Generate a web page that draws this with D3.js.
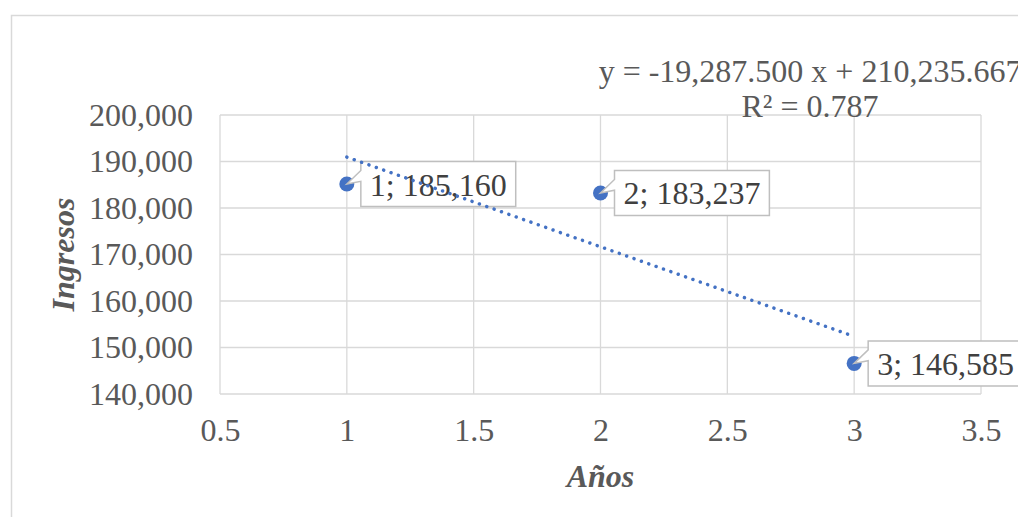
<!DOCTYPE html>
<html><head><meta charset="utf-8">
<script src="https://cdn.jsdelivr.net/npm/d3@7"></script>
<style>html,body{margin:0;padding:0;background:#fff;overflow:hidden}</style>
</head><body>
<script>
const years = [1, 2, 3];
const ingresos = [185160, 183237, 146585];
const pointLabels = ["1; 185,160", "2; 183,237", "3; 146,585"];
const xTicks = [0.5, 1, 1.5, 2, 2.5, 3, 3.5];
const yTicks = [140000, 150000, 160000, 170000, 180000, 190000, 200000];
const trendSlope = -19287.5, trendIntercept = 210235.667;
const equationText = "y = -19,287.500 x + 210,235.667";
const r2Text = "R² = 0.787";
const xTitle = "Años", yTitle = "Ingresos";

const W = 1018, H = 517;
const FONT = "'Liberation Serif','Times New Roman',serif";
const FS = 32;
const svg = d3.select("body").append("svg").attr("width", W).attr("height", H);
svg.append("rect").attr("width", W).attr("height", H).attr("fill", "#fff");
// chart border
svg.append("rect").attr("x", 11.5).attr("y", 15.5).attr("width", 1040).attr("height", 540)
  .attr("fill", "none").attr("stroke", "#d9d9d9").attr("stroke-width", 1.5);

const L = 220, R = 981, T = 115, B = 394;
const x = d3.scaleLinear().domain([0.5, 3.5]).range([L, R]);
const y = d3.scaleLinear().domain([140000, 200000]).range([B, T]);

// gridlines
const g = svg.append("g");
g.selectAll(".vg").data(xTicks).join("line")
  .attr("x1", d => x(d)).attr("x2", d => x(d)).attr("y1", T).attr("y2", B)
  .attr("stroke", "#d9d9d9").attr("stroke-width", 1.3);
g.selectAll(".hg").data(yTicks).join("line")
  .attr("x1", L).attr("x2", R).attr("y1", d => y(d)).attr("y2", d => y(d))
  .attr("stroke", "#d9d9d9").attr("stroke-width", 1.3);

// axes (labels only)
const fmt = d3.format(",");
const yAxis = svg.append("g").attr("transform", `translate(${L},0)`)
  .call(d3.axisLeft(y).tickValues(yTicks).tickFormat(fmt).tickSize(0).tickPadding(27));
const xAxis = svg.append("g").attr("transform", `translate(0,${B})`)
  .call(d3.axisBottom(x).tickValues(xTicks).tickFormat(d => String(d)).tickSize(0).tickPadding(24));
[yAxis, xAxis].forEach(a => {
  a.select(".domain").remove();
  a.selectAll("text").attr("font-family", FONT).attr("font-size", FS).attr("fill", "#595959");
});

// axis titles
svg.append("text").attr("x", (L + R) / 2).attr("y", 487).attr("text-anchor", "middle")
  .attr("font-family", FONT).attr("font-size", FS).attr("font-weight", "bold").attr("font-style", "italic")
  .attr("fill", "#595959").text(xTitle);
svg.append("text").attr("transform", `translate(74,${(T + B) / 2}) rotate(-90)`).attr("text-anchor", "middle")
  .attr("font-family", FONT).attr("font-size", FS).attr("font-weight", "bold").attr("font-style", "italic")
  .attr("fill", "#595959").text(yTitle);

// markers
const pts = years.map((d, i) => ({ x: d, y: ingresos[i], label: pointLabels[i] }));
svg.selectAll(".pt").data(pts).join("circle")
  .attr("cx", d => x(d.x)).attr("cy", d => y(d.y)).attr("r", 7.5).attr("fill", "#4472C4");

// data label callouts
const lab = svg.selectAll(".lab").data(pts).join("g");
lab.each(function (d) {
  const gg = d3.select(this);
  const px = x(d.x), py = y(d.y);
  const t = gg.append("text").attr("font-family", FONT).attr("font-size", FS).attr("fill", "#404040")
    .text(d.label);
  const tw = t.node().getComputedTextLength();
  const bw = tw + 18, bh = 45;
  const bx = px + 14, by = py - bh / 2;
  t.attr("x", bx + 9).attr("y", by + 34);
  gg.insert("path", "text")
    .attr("d", `M${bx},${by} H${bx + bw} V${by + bh} H${bx} V${by + bh * 0.44} L${px},${py} L${bx},${by + bh * 0.2} Z`)
    .attr("fill", "#fff").attr("stroke", "#bfbfbf").attr("stroke-width", 1.5);
});

// trendline (drawn over labels)
const tx = [years[0], years[years.length - 1]];
svg.append("line")
  .attr("x1", x(tx[0])).attr("y1", y(trendSlope * tx[0] + trendIntercept))
  .attr("x2", x(tx[1])).attr("y2", y(trendSlope * tx[1] + trendIntercept))
  .attr("stroke", "#4472C4").attr("stroke-width", 3.5).attr("stroke-linecap", "round")
  .attr("stroke-dasharray", "0.01 7.8");

// equation
svg.append("text").attr("x", 810).attr("y", 82).attr("text-anchor", "middle")
  .attr("font-family", FONT).attr("font-size", FS).attr("fill", "#595959").text(equationText);
svg.append("text").attr("x", 810).attr("y", 117).attr("text-anchor", "middle")
  .attr("font-family", FONT).attr("font-size", FS).attr("fill", "#595959").text(r2Text);
</script>
</body></html>
